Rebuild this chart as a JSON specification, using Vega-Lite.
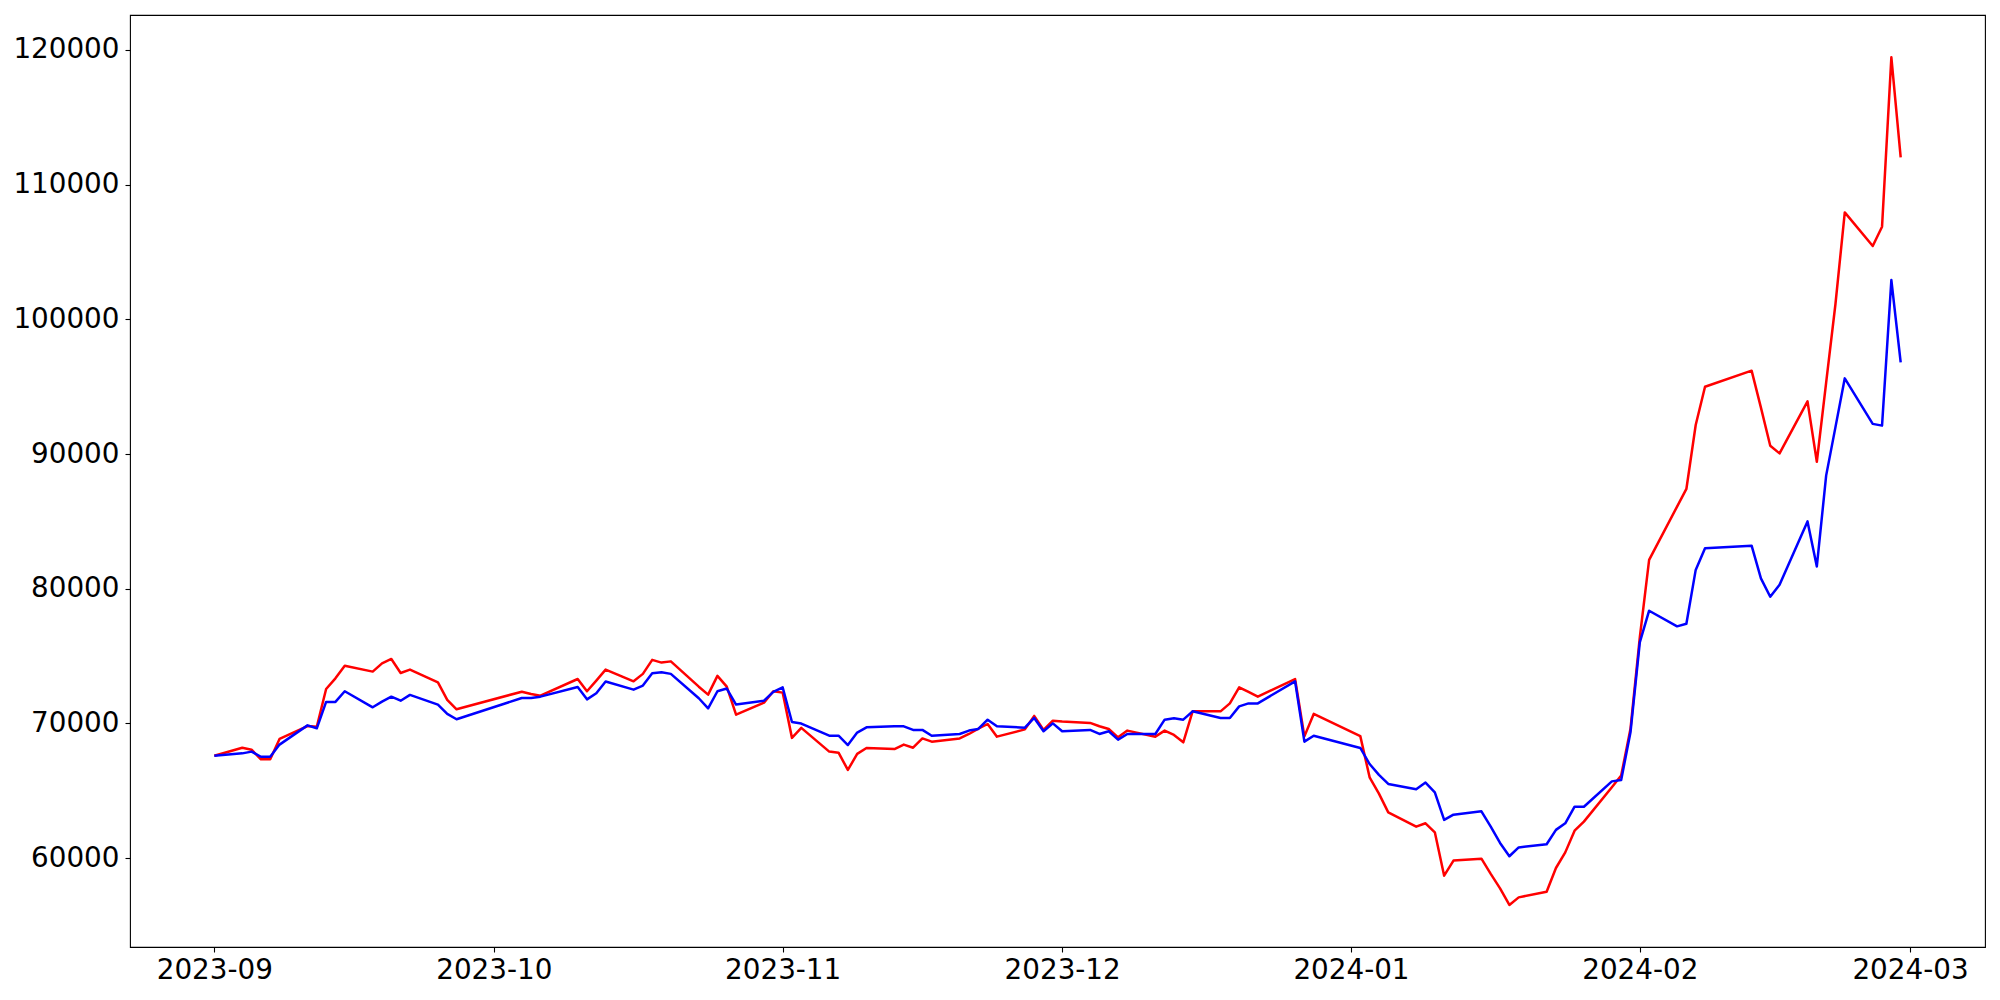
{
  "$schema": "https://vega.github.io/schema/vega-lite/v6.json",
  "width": 1855,
  "height": 932,
  "autosize": "none",
  "padding": {"left": 130, "top": 15, "right": 15, "bottom": 53},
  "background": "white",
  "config": {
    "view": {"stroke": "black", "strokeWidth": 1.1},
    "axis": {
      "domain": false,
      "grid": false,
      "ticks": true,
      "tickColor": "black",
      "tickWidth": 1.1,
      "tickSize": 5,
      "labelColor": "black",
      "labelFont": "DejaVu Sans",
      "labelFontSize": 27.8,
      "title": null
    }
  },
  "data": {
    "values": [
      {"date": "2023-09-01", "series1": 67600, "series2": 67610},
      {"date": "2023-09-04", "series1": 68200, "series2": 67780},
      {"date": "2023-09-05", "series1": 68050, "series2": 67910},
      {"date": "2023-09-06", "series1": 67340, "series2": 67530},
      {"date": "2023-09-07", "series1": 67340, "series2": 67530},
      {"date": "2023-09-08", "series1": 68850, "series2": 68430},
      {"date": "2023-09-11", "series1": 69810, "series2": 69860},
      {"date": "2023-09-12", "series1": 69760, "series2": 69640},
      {"date": "2023-09-13", "series1": 72560, "series2": 71600},
      {"date": "2023-09-14", "series1": 73350, "series2": 71600},
      {"date": "2023-09-15", "series1": 74290, "series2": 72390},
      {"date": "2023-09-18", "series1": 73850, "series2": 71200},
      {"date": "2023-09-19", "series1": 74460, "series2": 71620},
      {"date": "2023-09-20", "series1": 74790, "series2": 71990},
      {"date": "2023-09-21", "series1": 73750, "series2": 71690},
      {"date": "2023-09-22", "series1": 74000, "series2": 72120},
      {"date": "2023-09-25", "series1": 73050, "series2": 71400},
      {"date": "2023-09-26", "series1": 71750, "series2": 70710},
      {"date": "2023-09-27", "series1": 71050, "series2": 70310},
      {"date": "2023-10-04", "series1": 72360, "series2": 71890},
      {"date": "2023-10-05", "series1": 72190, "series2": 71890},
      {"date": "2023-10-06", "series1": 72060, "series2": 71990},
      {"date": "2023-10-10", "series1": 73300, "series2": 72710},
      {"date": "2023-10-11", "series1": 72390, "series2": 71790},
      {"date": "2023-10-12", "series1": 73180, "series2": 72240},
      {"date": "2023-10-13", "series1": 74000, "series2": 73110},
      {"date": "2023-10-16", "series1": 73130, "series2": 72510},
      {"date": "2023-10-17", "series1": 73680, "series2": 72810},
      {"date": "2023-10-18", "series1": 74720, "series2": 73720},
      {"date": "2023-10-19", "series1": 74520, "series2": 73800},
      {"date": "2023-10-20", "series1": 74610, "series2": 73680},
      {"date": "2023-10-23", "series1": 72730, "series2": 71870},
      {"date": "2023-10-24", "series1": 72140, "series2": 71120},
      {"date": "2023-10-25", "series1": 73530, "series2": 72390},
      {"date": "2023-10-26", "series1": 72730, "series2": 72590},
      {"date": "2023-10-27", "series1": 70650, "series2": 71400},
      {"date": "2023-10-30", "series1": 71550, "series2": 71690},
      {"date": "2023-10-31", "series1": 72390, "series2": 72340},
      {"date": "2023-11-01", "series1": 72290, "series2": 72680},
      {"date": "2023-11-02", "series1": 68930, "series2": 70110},
      {"date": "2023-11-03", "series1": 69670, "series2": 69990},
      {"date": "2023-11-06", "series1": 67910, "series2": 69090},
      {"date": "2023-11-07", "series1": 67830, "series2": 69090},
      {"date": "2023-11-08", "series1": 66550, "series2": 68400},
      {"date": "2023-11-09", "series1": 67740, "series2": 69320},
      {"date": "2023-11-10", "series1": 68180, "series2": 69710},
      {"date": "2023-11-13", "series1": 68100, "series2": 69790},
      {"date": "2023-11-14", "series1": 68430, "series2": 69790},
      {"date": "2023-11-15", "series1": 68200, "series2": 69520},
      {"date": "2023-11-16", "series1": 68890, "series2": 69520},
      {"date": "2023-11-17", "series1": 68650, "series2": 69090},
      {"date": "2023-11-20", "series1": 68890, "series2": 69220},
      {"date": "2023-11-21", "series1": 69220, "series2": 69470},
      {"date": "2023-11-22", "series1": 69610, "series2": 69590},
      {"date": "2023-11-23", "series1": 69960, "series2": 70280},
      {"date": "2023-11-24", "series1": 69020, "series2": 69790},
      {"date": "2023-11-27", "series1": 69560, "series2": 69690},
      {"date": "2023-11-28", "series1": 70560, "series2": 70410},
      {"date": "2023-11-29", "series1": 69520, "series2": 69420},
      {"date": "2023-11-30", "series1": 70210, "series2": 70010},
      {"date": "2023-12-01", "series1": 70140, "series2": 69420},
      {"date": "2023-12-04", "series1": 70040, "series2": 69520},
      {"date": "2023-12-05", "series1": 69790, "series2": 69220},
      {"date": "2023-12-06", "series1": 69590, "series2": 69420},
      {"date": "2023-12-07", "series1": 68970, "series2": 68800},
      {"date": "2023-12-08", "series1": 69470, "series2": 69220},
      {"date": "2023-12-11", "series1": 69020, "series2": 69220},
      {"date": "2023-12-12", "series1": 69470, "series2": 70280},
      {"date": "2023-12-13", "series1": 69150, "series2": 70380},
      {"date": "2023-12-14", "series1": 68600, "series2": 70280},
      {"date": "2023-12-15", "series1": 70900, "series2": 70900},
      {"date": "2023-12-18", "series1": 70900, "series2": 70410},
      {"date": "2023-12-19", "series1": 71490, "series2": 70410},
      {"date": "2023-12-20", "series1": 72680, "series2": 71270},
      {"date": "2023-12-21", "series1": 72340, "series2": 71490},
      {"date": "2023-12-22", "series1": 71990, "series2": 71490},
      {"date": "2023-12-26", "series1": 73300, "series2": 73130},
      {"date": "2023-12-27", "series1": 69040, "series2": 68650},
      {"date": "2023-12-28", "series1": 70710, "series2": 69090},
      {"date": "2024-01-02", "series1": 69060, "series2": 68180},
      {"date": "2024-01-03", "series1": 66000, "series2": 66990},
      {"date": "2024-01-04", "series1": 64790, "series2": 66180},
      {"date": "2024-01-05", "series1": 63400, "series2": 65510},
      {"date": "2024-01-08", "series1": 62340, "series2": 65110},
      {"date": "2024-01-09", "series1": 62590, "series2": 65610},
      {"date": "2024-01-10", "series1": 61920, "series2": 64890},
      {"date": "2024-01-11", "series1": 58700, "series2": 62840},
      {"date": "2024-01-12", "series1": 59820, "series2": 63230},
      {"date": "2024-01-15", "series1": 59960, "series2": 63480},
      {"date": "2024-01-16", "series1": 58830, "series2": 62340},
      {"date": "2024-01-17", "series1": 57760, "series2": 61130},
      {"date": "2024-01-18", "series1": 56530, "series2": 60140},
      {"date": "2024-01-19", "series1": 57090, "series2": 60800},
      {"date": "2024-01-22", "series1": 57510, "series2": 61030},
      {"date": "2024-01-23", "series1": 59270, "series2": 62100},
      {"date": "2024-01-24", "series1": 60430, "series2": 62590},
      {"date": "2024-01-25", "series1": 62040, "series2": 63820},
      {"date": "2024-01-26", "series1": 62710, "series2": 63820},
      {"date": "2024-01-29", "series1": 65260, "series2": 65700},
      {"date": "2024-01-30", "series1": 66130, "series2": 65810},
      {"date": "2024-01-31", "series1": 69600, "series2": 69340},
      {"date": "2024-02-01", "series1": 76400, "series2": 76020},
      {"date": "2024-02-02", "series1": 82140, "series2": 78370},
      {"date": "2024-02-05", "series1": 86100, "series2": 77210},
      {"date": "2024-02-06", "series1": 87410, "series2": 77400},
      {"date": "2024-02-07", "series1": 92160, "series2": 81400},
      {"date": "2024-02-08", "series1": 95000, "series2": 83000},
      {"date": "2024-02-13", "series1": 96190, "series2": 83200},
      {"date": "2024-02-14", "series1": 93450, "series2": 80770},
      {"date": "2024-02-15", "series1": 90620, "series2": 79410},
      {"date": "2024-02-16", "series1": 90050, "series2": 80300},
      {"date": "2024-02-19", "series1": 93910, "series2": 85000},
      {"date": "2024-02-20", "series1": 89430, "series2": 81660},
      {"date": "2024-02-21", "series1": 95300, "series2": 88400},
      {"date": "2024-02-22", "series1": 101140, "series2": 92000},
      {"date": "2024-02-23", "series1": 107940, "series2": 95620},
      {"date": "2024-02-26", "series1": 105450, "series2": 92240},
      {"date": "2024-02-27", "series1": 106880, "series2": 92110},
      {"date": "2024-02-28", "series1": 119450, "series2": 102920},
      {"date": "2024-02-29", "series1": 112030, "series2": 96810}
    ]
  },
  "encoding": {
    "x": {
      "field": "date",
      "type": "temporal",
      "scale": {"type": "utc", "domain": [1692744480000, 1709946720000], "nice": false},
      "axis": {
        "values": [1693526400000, 1696118400000, 1698796800000, 1701388800000, 1704067200000, 1706745600000, 1709251200000],
        "format": "%Y-%m",
        "labelPadding": 4,
        "labelFlush": false,
        "labelOverlap": false
      }
    }
  },
  "layer": [
    {
      "mark": {"type": "line", "color": "#ff0000", "strokeWidth": 2.5, "strokeJoin": "round"},
      "encoding": {
        "y": {
          "field": "series1",
          "type": "quantitative",
          "scale": {"domain": [53405, 122595], "nice": false, "zero": false},
          "axis": {
            "values": [60000, 70000, 80000, 90000, 100000, 110000, 120000],
            "format": "d",
            "labelPadding": 6,
            "labelFlush": false,
            "labelOverlap": false
          }
        }
      }
    },
    {
      "mark": {"type": "line", "color": "#0000ff", "strokeWidth": 2.5, "strokeJoin": "round"},
      "encoding": {
        "y": {"field": "series2", "type": "quantitative"}
      }
    }
  ]
}
